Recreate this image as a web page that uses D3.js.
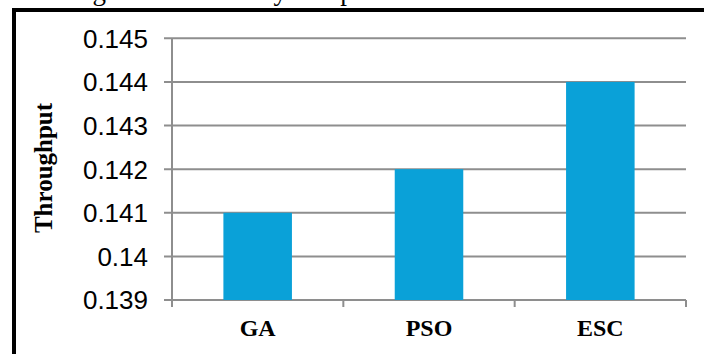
<!DOCTYPE html>
<html>
<head>
<meta charset="utf-8">
<script src="https://cdn.jsdelivr.net/npm/d3@7"></script>
<style>
  html, body { margin: 0; padding: 0; background: #fff; overflow: hidden; }
  svg { display: block; }
</style>
</head>
<body>
<svg id="chart" width="704" height="354"></svg>
<script>
// Throughput of each optimisation method
const categories = ["GA", "PSO", "ESC"];
const throughput = [0.141, 0.142, 0.144];
const yTicks = [0.139, 0.14, 0.141, 0.142, 0.143, 0.144, 0.145];
const yTickLabels = ["0.139", "0.14", "0.141", "0.142", "0.143", "0.144", "0.145"];
const yTitle = "Throughput";
const caption = "Figure 5: Efficiency comparison of the three cases";

const svg = d3.select("#chart");
const W = 704, H = 354;
const plot = { left: 172, right: 686, top: 38.3, bottom: 300 };

const x = d3.scaleBand()
  .domain(categories)
  .range([plot.left, plot.right])
  .paddingInner(0.6)
  .paddingOuter(0.3);

const y = d3.scaleLinear()
  .domain([0.139, 0.145])
  .range([plot.bottom, plot.top]);

const gridColor = "#8e8e8e";

// caption line, only its lowest strokes fall inside the page
svg.append("text")
  .attr("x", 70)
  .attr("y", -0.5)
  .attr("font-family", "'Liberation Serif', 'Times New Roman', serif")
  .attr("font-size", 27)
  .attr("fill", "#000")
  .text(caption);

// black frame (left and top sides)
svg.append("path")
  .attr("d", `M14,${H + 5} L14,10 L${W + 5},10`)
  .attr("fill", "none")
  .attr("stroke", "#000")
  .attr("stroke-width", 4);

// horizontal gridlines with left tick stubs
svg.append("g")
  .selectAll("line")
  .data(yTicks)
  .join("line")
  .attr("x1", plot.left - 8)
  .attr("x2", plot.right)
  .attr("y1", d => y(d))
  .attr("y2", d => y(d))
  .attr("stroke", gridColor)
  .attr("stroke-width", 2);

// y axis line
svg.append("line")
  .attr("x1", plot.left).attr("x2", plot.left)
  .attr("y1", plot.top).attr("y2", plot.bottom + 7)
  .attr("stroke", gridColor)
  .attr("stroke-width", 2);

// category boundary ticks under the x axis
const step = x.step();
const boundaries = d3.range(categories.length + 1).map(i => plot.left + i * step);
svg.append("g")
  .selectAll("line")
  .data(boundaries)
  .join("line")
  .attr("x1", d => d).attr("x2", d => d)
  .attr("y1", plot.bottom).attr("y2", plot.bottom + 7)
  .attr("stroke", gridColor)
  .attr("stroke-width", 2);

// bars
svg.append("g")
  .selectAll("rect")
  .data(categories.map((c, i) => ({ c, v: throughput[i] })))
  .join("rect")
  .attr("x", d => x(d.c))
  .attr("width", x.bandwidth())
  .attr("y", d => y(d.v))
  .attr("height", d => y(0.139) - y(d.v))
  .attr("fill", "#0aa1d8");

// y tick labels
svg.append("g")
  .selectAll("text")
  .data(yTicks)
  .join("text")
  .attr("x", plot.left - 24)
  .attr("y", d => y(d))
  .attr("dy", "0.36em")
  .attr("text-anchor", "end")
  .attr("font-family", "'Liberation Sans', Arial, sans-serif")
  .attr("font-size", 26)
  .attr("fill", "#000")
  .text((d, i) => yTickLabels[i]);

// category labels
svg.append("g")
  .selectAll("text")
  .data(categories)
  .join("text")
  .attr("x", d => x(d) + x.bandwidth() / 2)
  .attr("y", 336)
  .attr("text-anchor", "middle")
  .attr("font-family", "'Liberation Serif', 'Times New Roman', serif")
  .attr("font-weight", "bold")
  .attr("font-size", 24)
  .attr("fill", "#000")
  .text(d => d);

// y axis title
svg.append("text")
  .attr("transform", "translate(52,168) rotate(-90)")
  .attr("text-anchor", "middle")
  .attr("font-family", "'Liberation Serif', 'Times New Roman', serif")
  .attr("font-weight", "bold")
  .attr("font-size", 25)
  .attr("fill", "#000")
  .text(yTitle);
</script>
</body>
</html>
